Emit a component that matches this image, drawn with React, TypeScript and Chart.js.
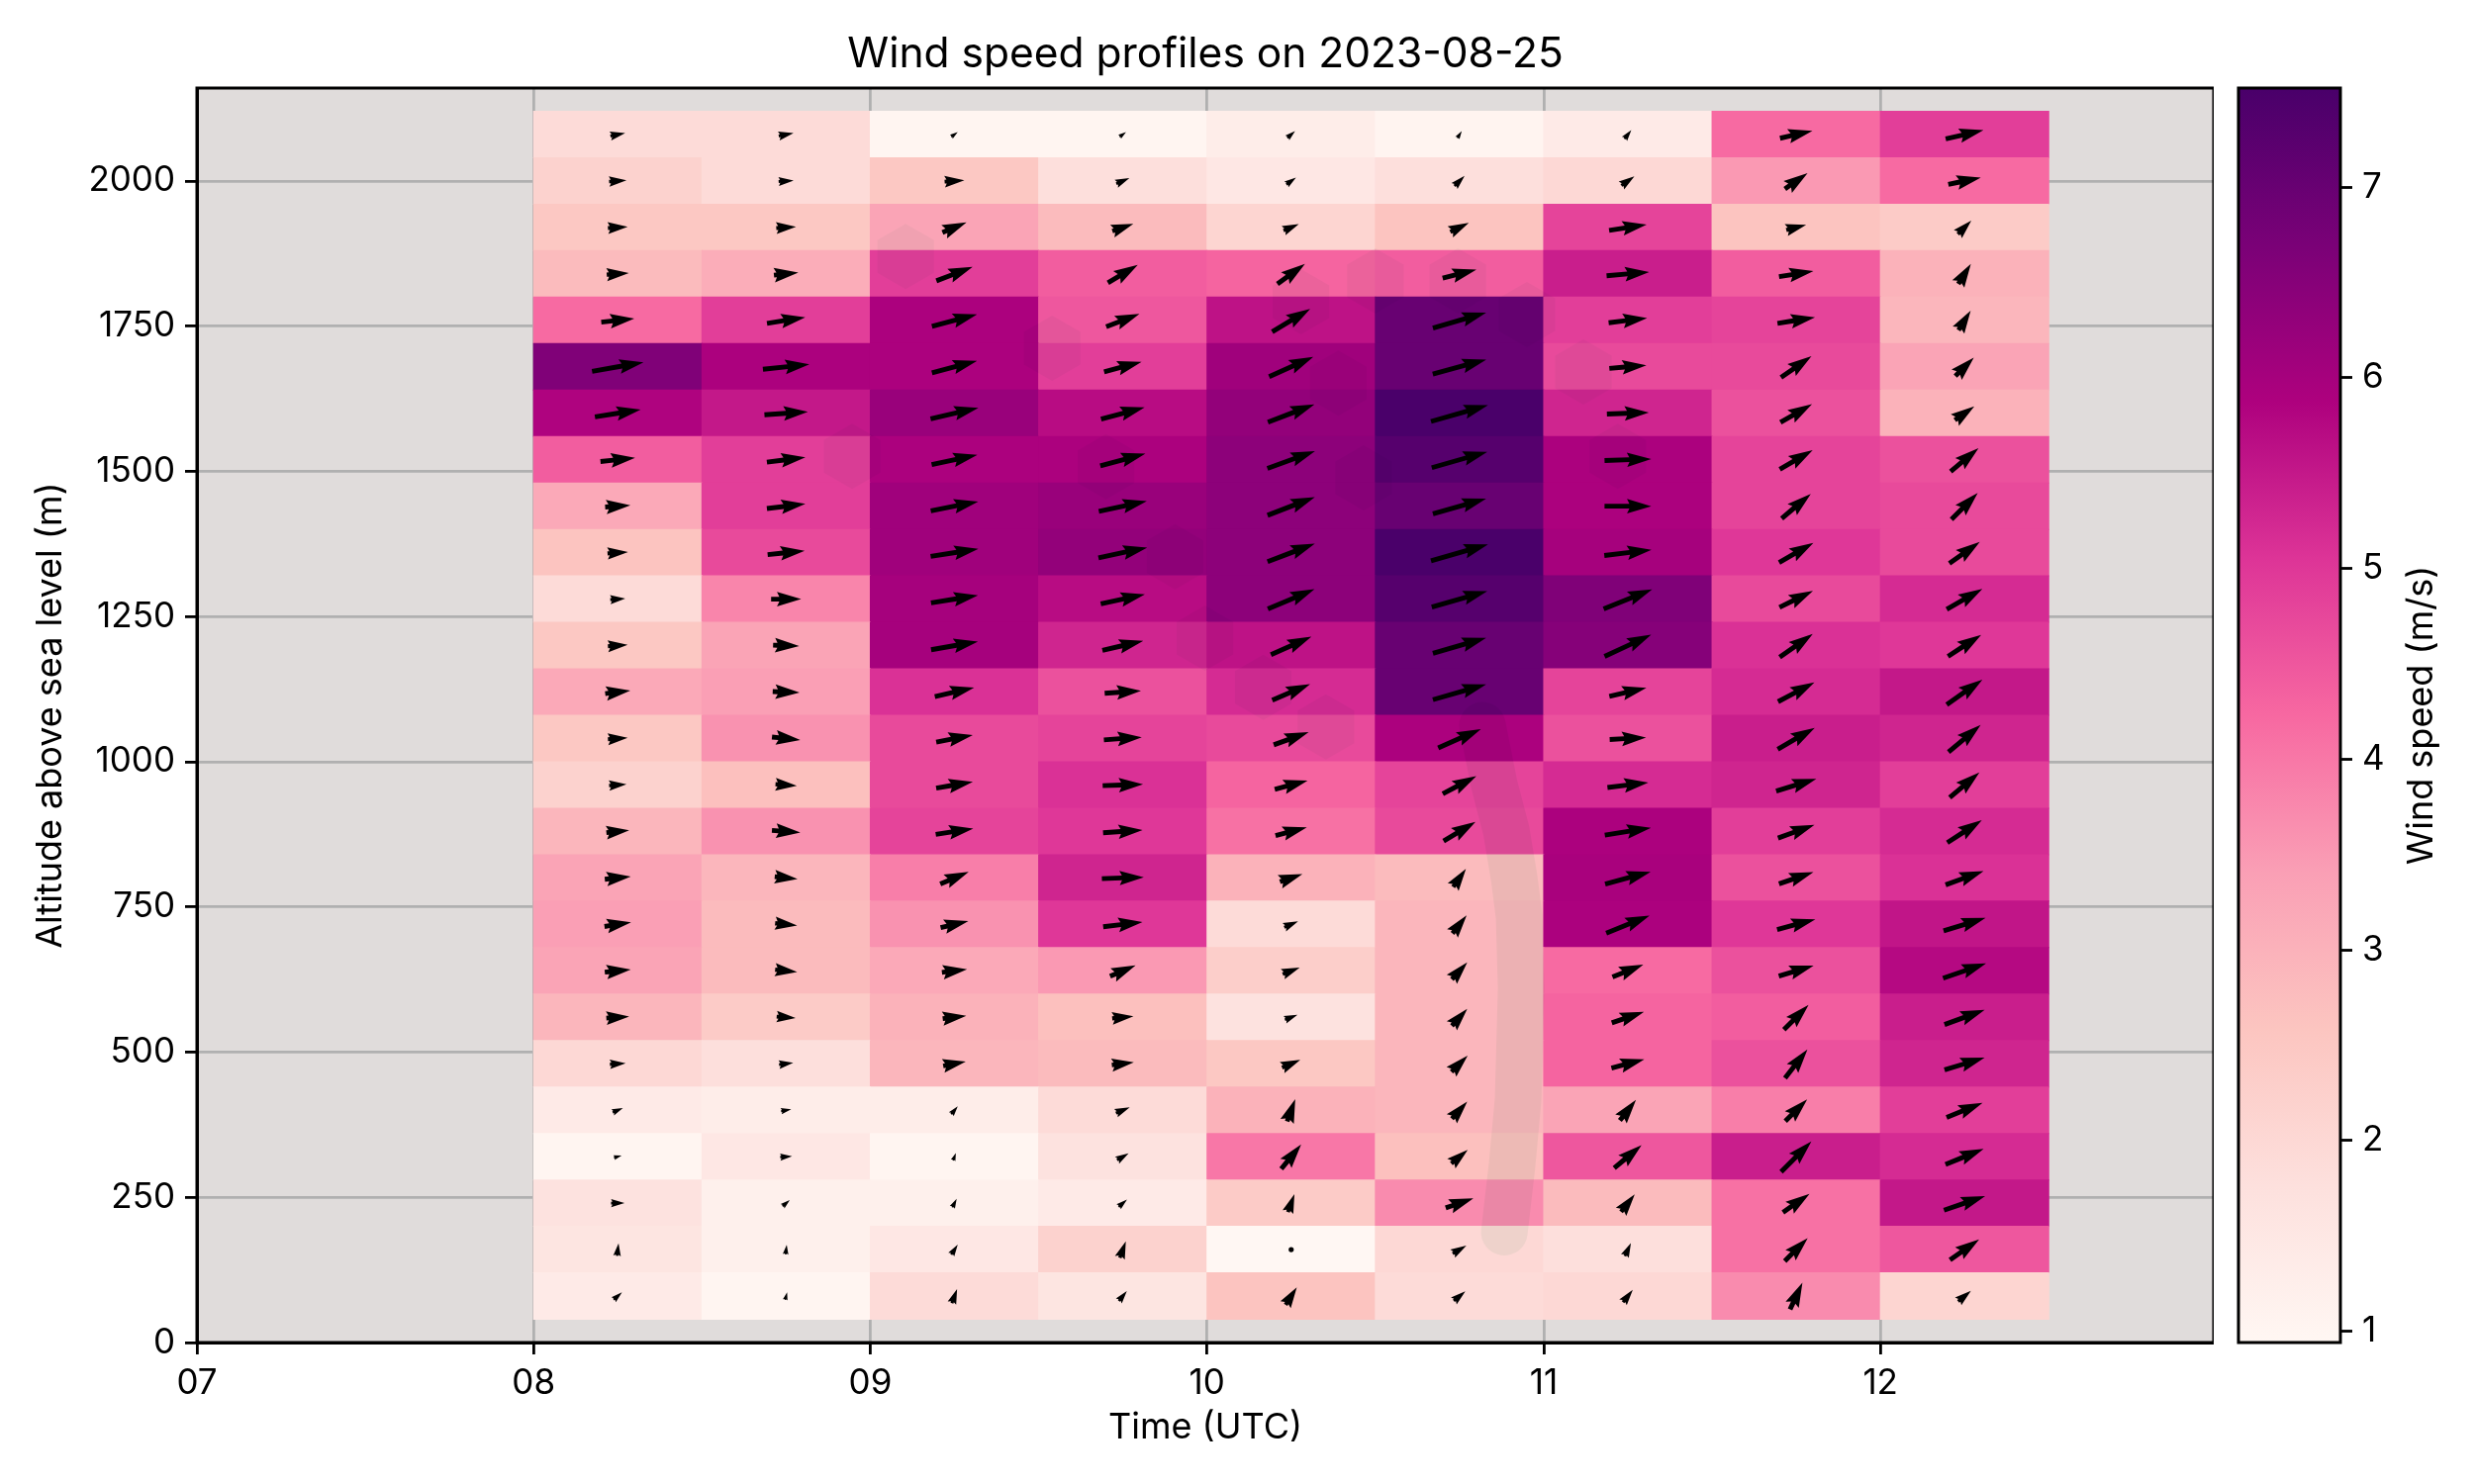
import React, { useEffect, useRef } from "react";
import { Chart, registerables } from "chart.js";

Chart.register(...registerables);

const FONT = "Inter, 'Noto Sans', sans-serif";

const title = "Wind speed profiles on 2023-08-25";
const xLabel = "Time (UTC)";
const yLabel = "Altitude above sea level (m)";
const cbarLabel = "Wind speed (m/s)";
const xTickHours = [7, 8, 9, 10, 11, 12];
const cbarTicks = [1, 2, 3, 4, 5, 6, 7];

const times = [8.25, 8.75, 9.25, 9.75, 10.25, 10.75, 11.25, 11.75, 12.25];
const altitudes = [2080, 2000, 1920, 1840, 1760, 1680, 1600, 1520, 1440, 1360, 1280, 1200, 1120, 1040, 960, 880, 800, 720, 640, 560, 480, 400, 320, 240, 160, 80];

// Wind speed (m/s); rows top to bottom, columns by time
const speed = [
  [1.9, 1.9, 1.0, 1.0, 1.3, 1.05, 1.4, 4.2, 4.9],
  [2.2, 1.9, 2.5, 1.8, 1.5, 1.8, 2.0, 3.5, 4.2],
  [2.5, 2.5, 3.3, 2.8, 2.1, 2.6, 4.8, 2.6, 2.4],
  [2.8, 3.1, 4.9, 4.4, 4.3, 4.4, 5.4, 4.4, 3.0],
  [4.2, 4.9, 5.9, 4.5, 5.6, 7.0, 4.9, 4.8, 2.9],
  [6.6, 5.9, 5.9, 4.9, 6.1, 7.0, 4.7, 4.7, 3.3],
  [5.85, 5.5, 6.2, 5.7, 6.3, 7.5, 5.3, 4.6, 3.0],
  [4.4, 4.9, 5.9, 5.9, 6.4, 7.3, 5.9, 4.8, 4.6],
  [3.2, 4.9, 6.1, 6.2, 6.4, 7.0, 5.9, 4.8, 4.7],
  [2.6, 4.7, 6.1, 6.3, 6.4, 7.5, 6.0, 5.0, 4.7],
  [1.9, 3.8, 6.0, 5.7, 6.4, 7.3, 6.6, 4.7, 5.2],
  [2.5, 3.3, 6.0, 5.3, 5.6, 7.0, 6.5, 5.1, 5.0],
  [3.2, 3.4, 5.1, 4.6, 5.2, 7.0, 4.8, 5.2, 5.5],
  [2.5, 3.6, 4.7, 4.8, 4.7, 5.9, 4.6, 5.4, 5.3],
  [2.2, 2.7, 4.7, 5.1, 4.3, 4.8, 5.2, 5.3, 4.9],
  [2.9, 3.6, 4.8, 5.0, 4.1, 4.7, 5.9, 4.9, 5.2],
  [3.3, 2.9, 3.9, 5.3, 3.0, 2.8, 5.95, 4.6, 5.1],
  [3.4, 2.8, 3.6, 5.0, 1.9, 2.9, 5.9, 5.0, 5.55],
  [3.3, 2.8, 3.2, 3.5, 2.3, 2.9, 4.2, 4.6, 5.75],
  [2.9, 2.4, 3.0, 2.7, 1.7, 2.9, 4.3, 4.4, 5.4],
  [2.0, 1.8, 2.9, 2.8, 2.5, 2.9, 4.3, 4.6, 5.3],
  [1.4, 1.3, 1.3, 1.9, 3.0, 2.9, 3.3, 3.9, 4.9],
  [1.0, 1.5, 1.0, 1.7, 4.0, 2.7, 4.5, 5.4, 5.2],
  [1.7, 1.2, 1.2, 1.4, 2.4, 3.7, 2.8, 4.1, 5.5],
  [1.6, 1.2, 1.5, 2.2, 0.95, 2.0, 1.8, 4.1, 4.5],
  [1.4, 1.0, 1.9, 1.6, 2.6, 1.9, 2.0, 3.7, 2.1],
];

// Arrow angle in degrees, counter-clockwise from east; same layout as speed
const direction = [
  [11, 11, 36, 36, 41, 58, 52, 13, 13],
  [4, 4, 4, 23, 36, 45, 35, 35, 12],
  [4, 4, 23, 19, 23, 26, 9, 15, 45],
  [4, 6, 21, 31, 36, 14, 5, 9, 58],
  [6, 9, 15, 21, 31, 16, 7, 9, 58],
  [10, 6, 15, 15, 24, 15, 5, 35, 45],
  [9, 4, 13, 15, 21, 16, 2, 30, 35],
  [6, 7, 12, 15, 20, 16, 2, 30, 40],
  [4, 7, 11, 12, 21, 16, 0, 40, 45],
  [4, 6, 9, 12, 21, 16, 7, 30, 35],
  [4, 0, 9, 12, 23, 16, 22, 26, 30],
  [4, -2, 10, 13, 24, 16, 25, 35, 33],
  [7, -2, 13, 4, 23, 16, 13, 28, 35],
  [4, -6, 11, 4, 20, 24, 3, 30, 40],
  [4, -4, 10, 2, 15, 28, 7, 17, 40],
  [6, -4, 9, 4, 15, 31, 9, 20, 33],
  [6, -6, 23, 2, 19, 55, 15, 19, 20],
  [9, -6, 13, 7, 23, 52, 22, 15, 17],
  [6, -6, 7, 23, 21, 48, 22, 17, 19],
  [4, -4, 7, 6, 21, 48, 19, 45, 20],
  [4, 7, 11, 7, 23, 45, 15, 52, 17],
  [23, 11, 51, 23, 70, 48, 52, 45, 22],
  [15, 4, 70, 31, 51, 40, 40, 45, 22],
  [0, 41, 63, 41, 70, 19, 52, 35, 19],
  [83, 83, 57, 70, 0, 30, 65, 45, 35],
  [41, 76, 70, 51, 57, 40, 52, 65, 40],
];

// Faint grey overlays in the plot, in data coordinates (hour, altitude)
const hexagons = [
  [9.105, 1870], [9.54, 1712], [8.946, 1526], [9.7, 1508], [10.279, 1792],
  [10.5, 1828], [10.745, 1828], [10.95, 1770], [11.118, 1671], [9.905, 1353],
  [9.994, 1213], [10.167, 1128], [10.353, 1060], [11.22, 1526], [10.465, 1489], [10.39, 1652],
];
const streak = [
  [10.818, 1063], [10.853, 961], [10.889, 881], [10.912, 801], [10.927, 733],
  [10.933, 610], [10.924, 419], [10.906, 305], [10.883, 190],
];

const rdPu = ["#fff7f3", "#fde0dd", "#fcc5c0", "#fa9fb5", "#f768a1", "#dd3497", "#ae017e", "#7a0177", "#49006a"];
const vMin = 0.94;
const vMax = 7.52;

function hexToRgb(h: string) {
  return [1, 3, 5].map((i) => parseInt(h.slice(i, i + 2), 16));
}
function colorFor(v: number) {
  const t = Math.min(1, Math.max(0, (v - vMin) / (vMax - vMin))) * (rdPu.length - 1);
  const i = Math.min(rdPu.length - 2, Math.floor(t));
  const a = hexToRgb(rdPu[i]);
  const b = hexToRgb(rdPu[i + 1]);
  const c = a.map((x, k) => Math.round(x + (b[k] - x) * (t - i)));
  return `rgb(${c[0]},${c[1]},${c[2]})`;
}

const cellPoints = altitudes.flatMap((alt, r) =>
  times.map((t, c) => ({ x: t, y: [alt - 40, alt + 40], v: speed[r][c] }))
);
const arrowPoints = altitudes.flatMap((alt, r) =>
  times.map((t, c) => ({ x: t, y: alt, speed: speed[r][c], dir: direction[r][c] }))
);

const SHAFT = 4.9;
const PX_PER_MS = 8;

function drawArrow(ctx: CanvasRenderingContext2D, x: number, y: number, s: number, deg: number) {
  ctx.save();
  ctx.translate(x, y);
  ctx.rotate((-deg * Math.PI) / 180);
  ctx.fillStyle = "#000";
  if (s < 0.97) {
    ctx.beginPath();
    ctx.arc(0, 0, 2.6, 0, Math.PI * 2);
    ctx.fill();
    ctx.restore();
    return;
  }
  const L = (s * PX_PER_MS) / SHAFT;
  let pts: number[][];
  if (L >= 5) {
    const tip = L / 2;
    pts = [[-L / 2, 0.5], [tip - 4.5, 0.5], [tip - 5, 1.5], [tip, 0], [tip - 5, -1.5], [tip - 4.5, -0.5], [-L / 2, -0.5]];
  } else {
    const k = L / 5;
    const tip = L / 2;
    pts = [[-5, 0.5], [-4.5, 0.5], [-5, 1.5], [0, 0], [-5, -1.5], [-4.5, -0.5], [-5, -0.5]].map(([a, b]) => [tip + a * k, b * k]);
  }
  ctx.beginPath();
  pts.forEach(([a, b], i) => (i ? ctx.lineTo(a * SHAFT, b * SHAFT) : ctx.moveTo(a * SHAFT, b * SHAFT)));
  ctx.closePath();
  ctx.fill();
  ctx.restore();
}

const plotDecor = {
  id: "plotDecor",
  beforeDraw(chart: any) {
    const { ctx, chartArea: a } = chart;
    ctx.save();
    ctx.fillStyle = "#e0dcdb";
    ctx.fillRect(a.left, a.top, a.right - a.left, a.bottom - a.top);
    ctx.restore();
  },
  afterDatasetsDraw(chart: any) {
    const { ctx, chartArea: a, scales } = chart;
    ctx.save();
    ctx.beginPath();
    ctx.rect(a.left, a.top, a.right - a.left, a.bottom - a.top);
    ctx.clip();
    ctx.globalCompositeOperation = "multiply";
    ctx.fillStyle = "rgb(245,250,248)";
    hexagons.forEach(([h, alt]) => {
      const cx = scales.x.getPixelForValue(h);
      const cy = scales.y.getPixelForValue(alt);
      ctx.beginPath();
      for (let i = 0; i < 6; i++) {
        const ang = Math.PI / 2 + (i * Math.PI) / 3;
        const px = cx + 33 * Math.cos(ang);
        const py = cy + 33 * Math.sin(ang);
        if (i) ctx.lineTo(px, py);
        else ctx.moveTo(px, py);
      }
      ctx.closePath();
      ctx.fill();
    });
    ctx.strokeStyle = "rgb(240,248,243)";
    ctx.lineWidth = 47;
    ctx.lineCap = "round";
    ctx.lineJoin = "round";
    ctx.beginPath();
    streak.forEach(([h, alt], i) => {
      const px = scales.x.getPixelForValue(h);
      const py = scales.y.getPixelForValue(alt);
      if (i) ctx.lineTo(px, py);
      else ctx.moveTo(px, py);
    });
    ctx.stroke();
    ctx.restore();

    ctx.save();
    chart.getDatasetMeta(1).data.forEach((el: any, i: number) => {
      const p = arrowPoints[i];
      drawArrow(ctx, el.x, el.y, p.speed, p.dir);
    });
    ctx.restore();

    ctx.save();
    ctx.strokeStyle = "#000";
    ctx.lineWidth = 3;
    ctx.strokeRect(a.left, a.top, a.right - a.left, a.bottom - a.top);
    ctx.restore();
  },
};

const cbarFill = {
  id: "cbarFill",
  beforeDatasetsDraw(chart: any) {
    const { ctx, chartArea: a } = chart;
    const g = ctx.createLinearGradient(0, a.bottom, 0, a.top);
    rdPu.forEach((c, i) => g.addColorStop(i / (rdPu.length - 1), c));
    ctx.save();
    ctx.fillStyle = g;
    ctx.fillRect(a.left, a.top, a.right - a.left, a.bottom - a.top);
    ctx.strokeStyle = "#000";
    ctx.lineWidth = 3;
    ctx.strokeRect(a.left, a.top, a.right - a.left, a.bottom - a.top);
    ctx.restore();
  },
  afterDraw(chart: any) {
    const { ctx, chartArea: a } = chart;
    ctx.save();
    ctx.translate(210, (a.top + a.bottom) / 2);
    ctx.rotate(-Math.PI / 2);
    ctx.fillStyle = "#000";
    ctx.font = `36px ${FONT}`;
    ctx.textAlign = "center";
    ctx.textBaseline = "middle";
    ctx.fillText(cbarLabel, 0, 0);
    ctx.restore();
  },
};

export default function App() {
  const mainRef = useRef<HTMLCanvasElement>(null);
  const cbarRef = useRef<HTMLCanvasElement>(null);

  useEffect(() => {
    const tickFont = { family: FONT, size: 35 };
    const labelFont = { family: FONT, size: 36 };
    const main = new Chart(mainRef.current as HTMLCanvasElement, {
      type: "bar",
      data: {
        datasets: [
          {
            type: "bar",
            data: cellPoints as any,
            backgroundColor: (ctx: any) => colorFor(ctx.raw ? ctx.raw.v : vMin),
            borderWidth: 0,
            grouped: false,
            categoryPercentage: 1,
            barPercentage: 1,
            inflateAmount: 0.5,
          } as any,
          {
            type: "scatter",
            data: arrowPoints as any,
            pointRadius: 0,
            pointHoverRadius: 0,
          } as any,
        ],
      },
      options: {
        animation: false,
        responsive: false,
        devicePixelRatio: 1,
        events: [],
        layout: { padding: { left: 0, right: 0, top: 0, bottom: 0 } },
        plugins: {
          legend: { display: false },
          tooltip: { enabled: false },
          title: {
            display: true,
            text: title,
            fullSize: false,
            color: "#000",
            font: { family: FONT, size: 42.5, weight: "normal", lineHeight: 1.2 },
            padding: { top: 30, bottom: 8 },
          },
        },
        scales: {
          x: {
            type: "linear",
            offset: false,
            min: 7,
            max: 12.99,
            afterFit: (s: any) => { s.height = 143; },
            afterBuildTicks: (s: any) => { s.ticks = xTickHours.map((value) => ({ value })); },
            ticks: {
              color: "#000",
              font: tickFont,
              padding: 8,
              maxRotation: 0,
              autoSkip: false,
              callback: (v: any) => String(v).padStart(2, "0"),
            },
            grid: { offset: false, color: "#b0b0b0", lineWidth: 2.8, tickColor: "#000", tickWidth: 2.8, tickLength: 12, drawOnChartArea: true },
            border: { color: "#000", width: 3 },
            title: { display: true, text: xLabel, color: "#000", font: labelFont, padding: { top: 0, bottom: 35 } },
          },
          y: {
            type: "linear",
            min: 0,
            max: 2160,
            afterFit: (s: any) => { s.width = 199; },
            ticks: {
              stepSize: 250,
              includeBounds: false,
              color: "#000",
              font: tickFont,
              padding: 10,
              callback: (v: any) => String(v),
            },
            grid: { color: "#b0b0b0", lineWidth: 2.8, tickColor: "#000", tickWidth: 2.8, tickLength: 12 },
            border: { color: "#000", width: 3 },
            title: { display: true, text: yLabel, color: "#000", font: labelFont, padding: { top: 30, bottom: 0 } },
          },
        },
      },
      plugins: [plotDecor],
    } as any);

    const cbar = new Chart(cbarRef.current as HTMLCanvasElement, {
      type: "bar",
      data: { datasets: [] },
      options: {
        animation: false,
        responsive: false,
        devicePixelRatio: 1,
        events: [],
        layout: { padding: { left: 25, right: 0, top: 89, bottom: 143 } },
        plugins: { legend: { display: false }, tooltip: { enabled: false }, title: { display: false } },
        scales: {
          x: { display: false },
          y: {
            type: "linear",
            position: "right",
            min: vMin,
            max: vMax,
            afterFit: (s: any) => { s.width = 135; },
            afterBuildTicks: (s: any) => { s.ticks = cbarTicks.map((value) => ({ value })); },
            ticks: { color: "#000", font: tickFont, padding: 10 },
            grid: { display: true, drawOnChartArea: false, tickColor: "#000", tickWidth: 2.8, tickLength: 12 },
            border: { display: false },
            title: { display: false },
          },
        },
      },
      plugins: [cbarFill],
    } as any);

    return () => {
      main.destroy();
      cbar.destroy();
    };
  }, []);

  return (
    <div style={{ position: "absolute", left: 0, top: 0, width: 2500, height: 1500, background: "#fff", overflow: "hidden" }}>
      <canvas ref={mainRef} width={2237} height={1500} style={{ position: "absolute", left: 0, top: 0 }} />
      <canvas ref={cbarRef} width={263} height={1500} style={{ position: "absolute", left: 2237, top: 0 }} />
    </div>
  );
}
